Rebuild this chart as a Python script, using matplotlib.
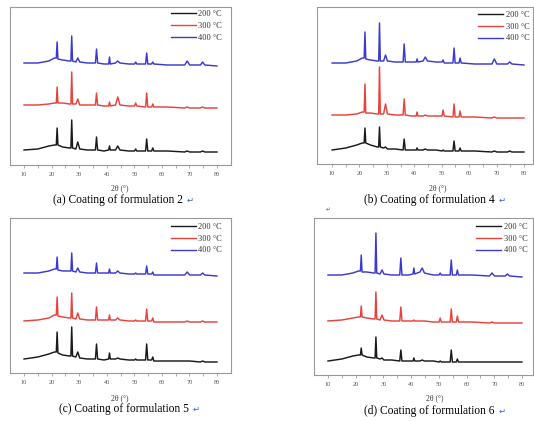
import matplotlib
matplotlib.use("Agg")
import matplotlib.pyplot as plt
from matplotlib.lines import Line2D

plt.rcParams['font.family'] = ['Liberation Serif', 'DejaVu Serif']

# 2theta sample positions (degrees)
two_theta = [10, 15, 19, 21, 21.7, 22.0, 22.3, 24, 26.5, 27.0, 27.3, 27.6, 28.8, 29.5, 30.2,
             33, 35.9, 36.3, 36.7, 39, 40.7, 41.0, 41.3, 43.2, 44.0, 44.8, 48, 50.1, 50.5, 50.9,
             54.1, 54.5, 54.9, 56.3, 56.7, 57.1, 62, 68.3, 69.2, 70.1, 74, 74.8, 75.6, 80]

series_labels = ["200 °C", "300 °C", "400 °C"]
series_colors = ["#1a1a1a", "#e8423c", "#3a3ad0"]

# Formulation 2 (offset intensities, a.u.)
f2_200 = [15, 16, 19, 20, 20, 37, 20, 18, 17, 17, 45, 17, 16, 23, 16,
          15, 15, 28, 15, 14, 15, 19, 15, 15, 19, 15, 14, 14, 16, 14,
          14, 26, 14, 14, 17, 14, 14, 13, 14, 13, 13, 14, 13, 13]
f2_300 = [60, 60, 61, 62, 62, 78, 62, 62, 61, 61, 93, 61, 61, 66, 60,
          60, 60, 72, 60, 59, 59, 63, 59, 60, 68, 60, 59, 59, 62, 59,
          58, 72, 58, 58, 61, 58, 58, 57, 58, 57, 57, 58, 57, 57]
f2_400 = [102, 102, 104, 107, 107, 123, 106, 105, 104, 104, 129, 104, 103, 107, 103,
          102, 102, 116, 102, 101, 101, 108, 101, 102, 104, 102, 101, 101, 103, 101,
          101, 112, 101, 101, 103, 101, 100, 100, 104, 100, 100, 103, 100, 99]

# Formulation 4
f4_200 = [14, 16, 19, 21, 21, 36, 21, 19, 17, 17, 37, 17, 16, 17, 15,
          15, 14, 25, 14, 14, 14, 16, 14, 14, 15, 14, 14, 13, 14, 13,
          13, 23, 13, 13, 16, 13, 13, 12, 13, 12, 12, 13, 12, 12]
f4_300 = [49, 49, 50, 52, 52, 80, 51, 51, 50, 50, 97, 50, 50, 60, 50,
          49, 49, 65, 49, 48, 48, 52, 48, 48, 49, 48, 48, 48, 54, 48,
          47, 60, 47, 47, 53, 47, 47, 46, 47, 46, 46, 46, 46, 46]
f4_400 = [101, 101, 103, 106, 106, 132, 105, 104, 103, 103, 141, 103, 103, 109, 103,
          102, 102, 120, 102, 102, 102, 105, 102, 103, 107, 103, 102, 102, 104, 101,
          101, 116, 101, 101, 106, 101, 100, 100, 105, 100, 100, 102, 100, 99]

# Formulation 5
f5_200 = [14, 16, 19, 21, 21, 41, 20, 18, 17, 17, 46, 17, 16, 21, 15,
          14, 14, 29, 14, 13, 14, 20, 14, 14, 15, 14, 13, 13, 14, 13,
          13, 29, 13, 13, 16, 12, 12, 12, 12, 12, 11, 12, 11, 11]
f5_300 = [52, 53, 55, 58, 58, 76, 57, 56, 55, 55, 80, 55, 54, 60, 54,
          53, 53, 66, 53, 53, 53, 58, 53, 53, 55, 53, 52, 52, 53, 52,
          52, 64, 52, 52, 55, 51, 51, 51, 52, 51, 51, 52, 51, 51]
f5_400 = [100, 100, 102, 104, 104, 116, 103, 102, 102, 102, 120, 102, 101, 105, 101,
          100, 100, 110, 100, 100, 100, 104, 100, 100, 102, 100, 99, 99, 100, 99,
          99, 107, 99, 99, 101, 98, 98, 98, 101, 98, 98, 100, 98, 97]

# Formulation 6
f6_200 = [14, 16, 19, 20, 20, 27, 20, 18, 17, 17, 38, 17, 16, 17, 15,
          15, 14, 25, 14, 14, 14, 17, 14, 14, 15, 14, 14, 13, 14, 13,
          13, 25, 13, 13, 16, 13, 13, 13, 13, 13, 13, 13, 13, 13]
f6_300 = [54, 55, 57, 58, 58, 69, 58, 57, 56, 56, 83, 56, 55, 60, 55,
          54, 54, 68, 54, 54, 54, 55, 54, 54, 54, 54, 53, 53, 57, 53,
          53, 66, 53, 53, 59, 53, 53, 52, 53, 52, 52, 52, 52, 52]
f6_400 = [100, 100, 102, 104, 104, 120, 103, 103, 102, 102, 142, 102, 101, 105, 101,
          100, 100, 117, 100, 100, 101, 107, 101, 103, 107, 102, 100, 100, 102, 100,
          100, 115, 100, 100, 105, 100, 100, 99, 102, 99, 99, 101, 99, 98]

captions = ["(a) Coating of formulation 2", "(b) Coating of formulation 4",
            "(c) Coating of formulation 5", "(d) Coating of formulation 6"]
xticks = [10, 20, 30, 40, 50, 60, 70, 80]

W, H = 534, 421
fig = plt.figure(figsize=(W / 100, H / 100), dpi=100)

def px_rect(l, t, r, b):
    return [l / W, 1 - b / H, (r - l) / W, (b - t) / H]

panels = [
    dict(rect=(10, 7, 231, 165), xlim=(4.9, 85.1), data=(f2_200, f2_300, f2_400),
         cap=(183, 200), xl=(120, 188), leg=(175, 17)),
    dict(rect=(317, 7, 533, 164), xlim=(4.5, 83.3), data=(f4_200, f4_300, f4_400),
         cap=(495, 200), xl=(438, 188), leg=(482, 18)),
    dict(rect=(10, 218, 231, 373), xlim=(4.9, 85.1), data=(f5_200, f5_300, f5_400),
         cap=(189, 409), xl=(120, 398), leg=(175, 230)),
    dict(rect=(314, 218, 533, 375), xlim=(4.95, 84.0), data=(f6_200, f6_300, f6_400),
         cap=(495, 411), xl=(435, 398), leg=(480, 230)),
]

for p, cap in zip(panels, captions):
    l, t, r, b = p["rect"]
    ax = fig.add_axes(px_rect(l, t, r, b))
    for ys, c, lab in zip(p["data"], series_colors, series_labels):
        assert len(ys) == len(two_theta)
        ax.plot(two_theta, ys, color=c, lw=1.05, label=lab)
    ax.set_xlim(*p["xlim"])
    ax.set_ylim(0, b - t)
    ax.set_yticks([])
    ax.set_xticks(xticks)
    ax.set_xticks(range(15, 80, 10), minor=True)
    ax.tick_params(axis='x', which='both', direction='out', length=2, width=0.5,
                   color='#888888', labelsize=4.5, labelcolor='#555555', pad=3)
    for s in ax.spines.values():
        s.set_color('#999999')
        s.set_linewidth(0.8)
    # legend
    lx, ly = p["leg"]
    handles = [Line2D([0], [0], color=c, lw=1.0) for c in series_colors]
    ax.legend(handles, series_labels, loc='upper left',
              bbox_to_anchor=((lx - l - 4) / (r - l), 1 - (ly - t - 7) / (b - t)),
              frameon=False, fontsize=6, handlelength=3.0, handletextpad=0.3,
              labelspacing=0.45, borderpad=0, borderaxespad=0, labelcolor='#333333')
    # x label and caption
    fig.text(p["xl"][0] / W, 1 - p["xl"][1] / H, "2θ (°)", ha='center', va='center',
             fontsize=5.5, color='#333333')
    fig.text(p["cap"][0] / W, 1 - p["cap"][1] / H, cap, ha='right', va='center',
             fontsize=8.3, color='black')
    fig.text((p["cap"][0] + 4) / W, 1 - p["cap"][1] / H, "↵", ha='left', va='center',
             fontsize=6, color='#3a5bd0', family='DejaVu Sans')

fig.text(328 / W, 1 - 210 / H, "↵", ha='center', va='center', fontsize=4,
         color='#3a5bd0', family='DejaVu Sans')

fig.savefig("out.png", dpi=100)
